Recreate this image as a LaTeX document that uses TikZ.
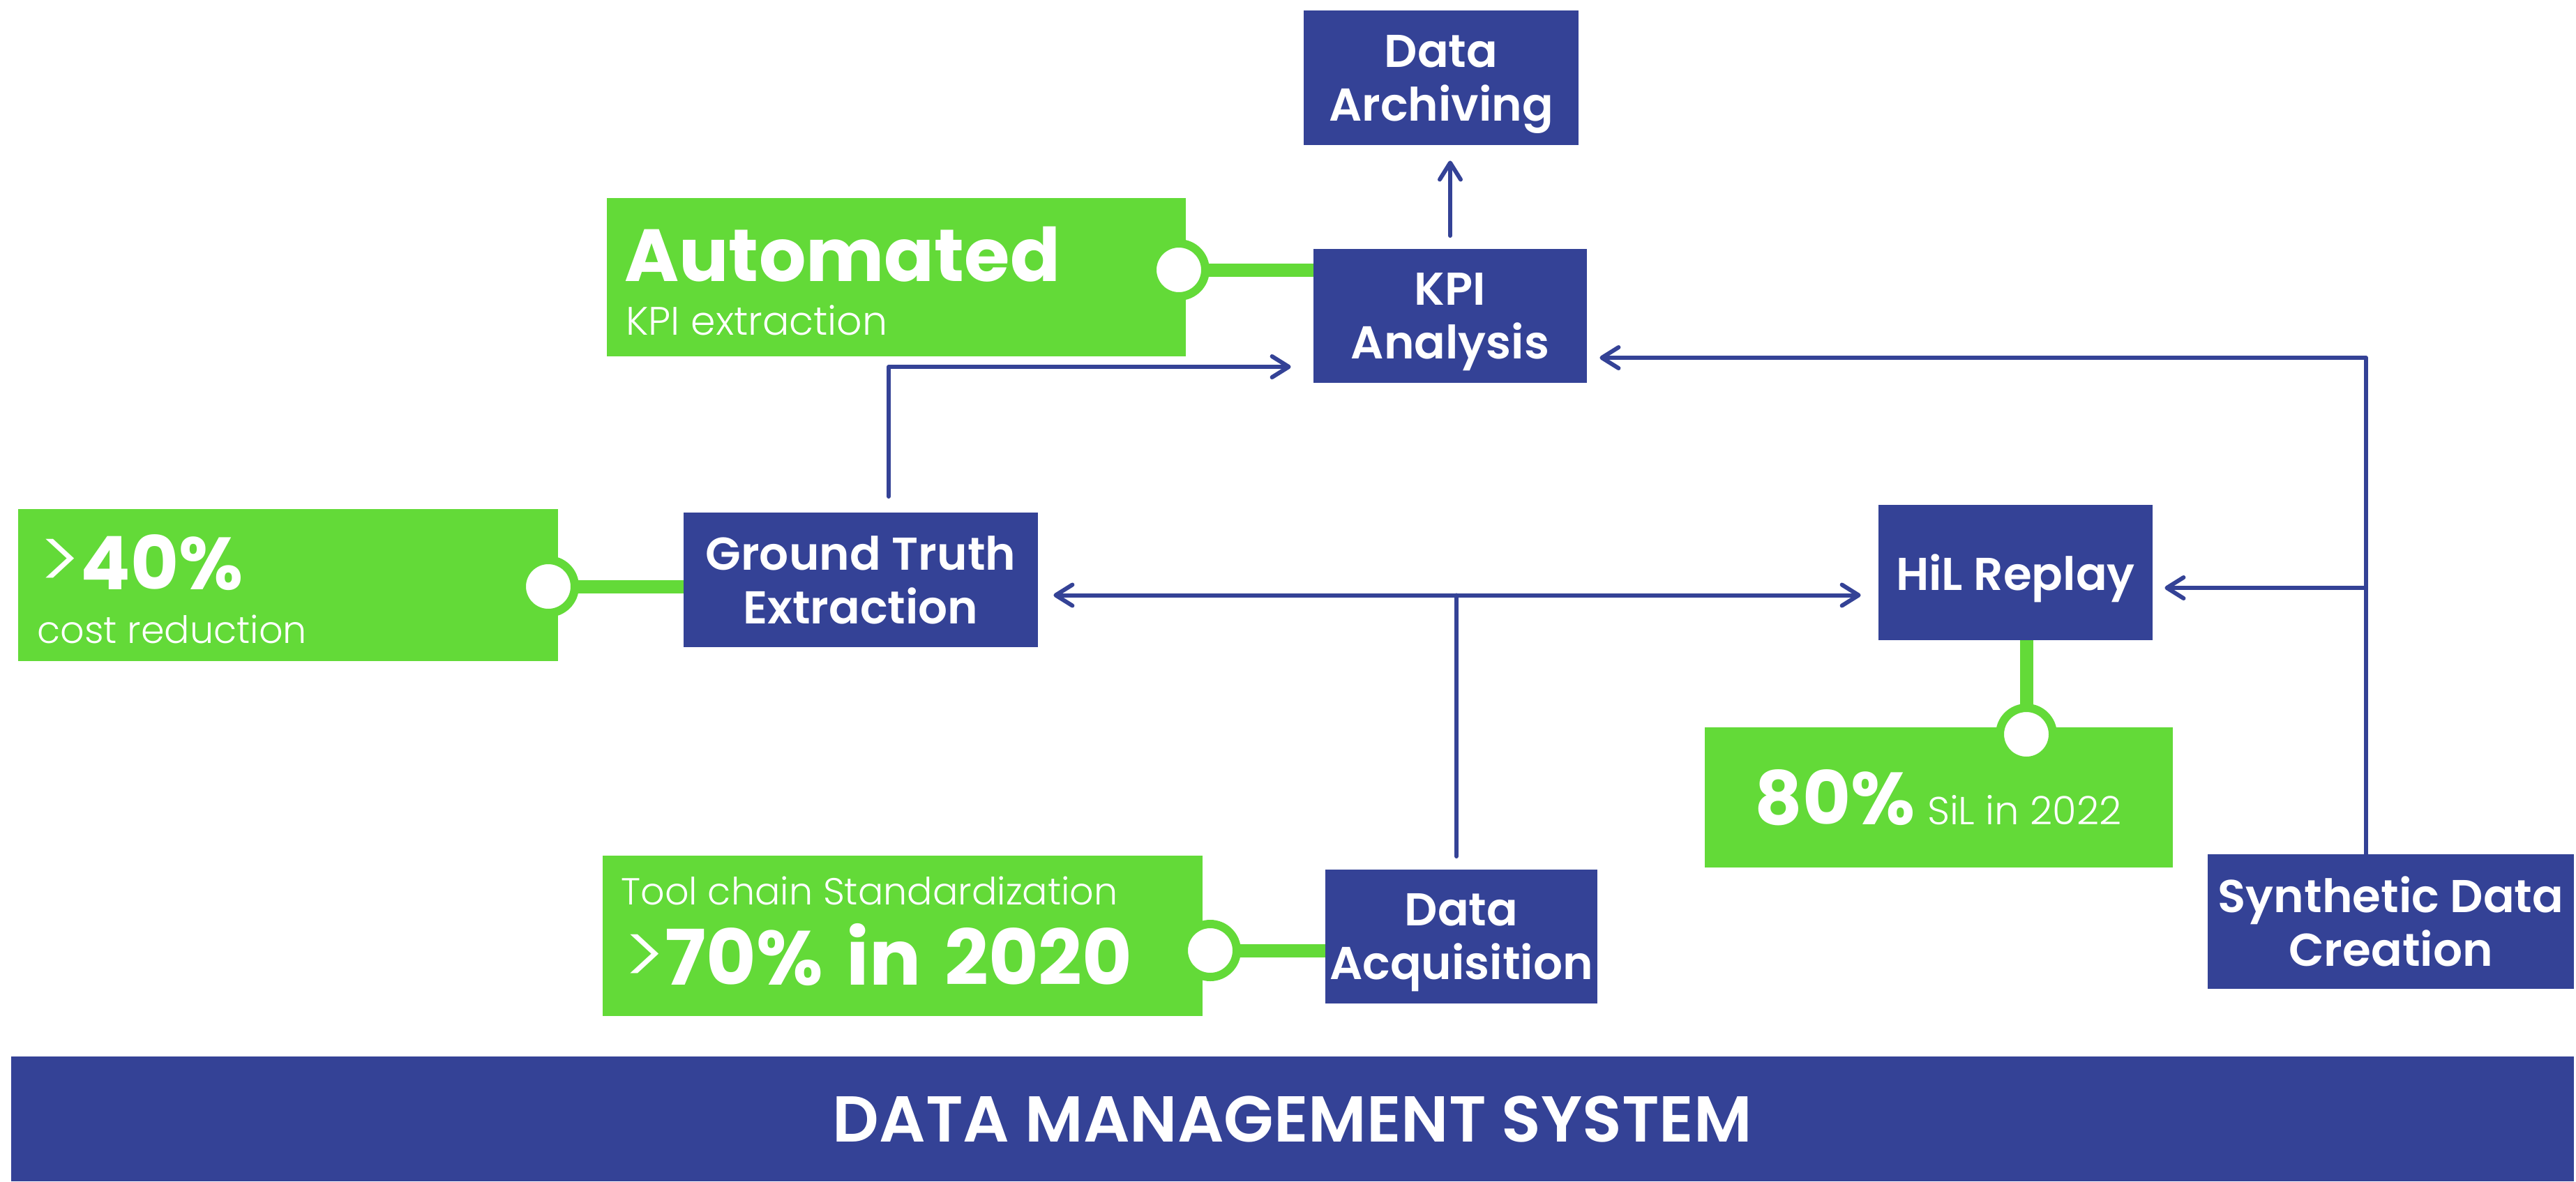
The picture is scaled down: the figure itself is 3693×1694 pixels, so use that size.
\documentclass[tikz,border=0pt]{standalone}
\usepackage{fontspec}
\setmainfont{Poppins}
\newfontfamily\plight{Poppins Light}
\newfontfamily\psemi{Poppins SemiBold}
\newfontfamily\pbold{Poppins Bold}
\usetikzlibrary{arrows.meta}
\definecolor{dblue}{RGB}{52,66,150}
\definecolor{dgreen}{RGB}{99,218,56}
\tikzset{
  bluebox/.style={fill=dblue, draw=none, text=white, align=center, inner sep=0pt,
    text depth=-2pt, font=\psemi\fontsize{33}{38.5}\selectfont},
  greenbox/.style={fill=dgreen, draw=none, inner sep=0pt},
  ring/.style={circle, fill=white, draw=dgreen, line width=6pt, minimum size=38pt, inner sep=0pt},
  gline/.style={draw=dgreen, line width=9.5pt},
  bline/.style={draw=dblue, line width=3pt, line cap=round, line join=round},
  barb/.tip={Straight Barb[length=12pt,width=15pt,line cap=round,line join=round]},
  bigtxt/.style={text=white, inner sep=0pt, anchor=base west, font=\pbold\fontsize{53}{60}\selectfont},
  smalltxt/.style={text=white, inner sep=0pt, anchor=base west, font=\plight\fontsize{27}{30}\selectfont},
}
\begin{document}
\begin{tikzpicture}[x=0.5pt,y=-0.5pt]
\useasboundingbox (0,0) rectangle (3693,1694);
% banner
\node[fill=dblue, inner sep=0pt, minimum width=1837pt, minimum height=89.5pt, text=white,
  text depth=-16pt, font=\psemi\fontsize{46.5}{50}\selectfont] (dms) at (1853,1604.5) {DATA MANAGEMENT SYSTEM};
% green boxes
\node[greenbox, minimum width=415pt, minimum height=113.5pt] (gauto) at (1285,397.5) {};
\node[greenbox, minimum width=387pt, minimum height=109pt] (g40) at (413,839) {};
\node[greenbox, minimum width=430pt, minimum height=115pt] (gtool) at (1294,1342) {};
\node[greenbox, minimum width=335.5pt, minimum height=100.5pt] (g80) at (2779.5,1143.5) {};
% blue boxes
\node[bluebox, minimum width=197pt, minimum height=96.5pt] (arch) at (2066,111.5) {Data\\Archiving};
\node[bluebox, minimum width=196pt, minimum height=96pt] (kpi) at (2079,453) {KPI\\Analysis};
\node[bluebox, minimum width=254pt, minimum height=96.5pt] (gt) at (1234,831.5) {Ground Truth\\Extraction};
\node[bluebox, minimum width=196.5pt, minimum height=97pt] (hil) at (2889.5,821) {HiL Replay};
\node[bluebox, minimum width=195pt, minimum height=96pt] (da) at (2095,1343) {Data\\Acquisition};
\node[bluebox, minimum width=262.5pt, minimum height=96.5pt] (syn) at (3427.5,1321.5) {Synthetic Data\\Creation};
% texts in green boxes
\node[bigtxt] (tauto) at (895,403) {Automated};
\node[smalltxt, font=\plight\fontsize{28.5}{30}\selectfont] (tkpi) at (897,480) {KPI extraction};
\node[bigtxt] (t40) at (56,845) {{\plight\fontsize{60}{60}\selectfont >}40\%};
\node[smalltxt] (tcost) at (53,922) {cost reduction};
\node[smalltxt] (ttool) at (890,1297) {Tool chain Standardization};
\node[bigtxt, font=\pbold\fontsize{55}{60}\selectfont] (t70) at (894,1412) {{\plight\fontsize{60}{60}\selectfont >}70\%\hspace{17pt}in\hspace{17pt}2020};
\node[bigtxt] (t80) at (2515,1182) {80\%\,{\plight\fontsize{28}{30}\selectfont SiL in 2022}};
% green connectors
\coordinate (pauto) at (1690,387);
\coordinate (p40) at (786,841);
\coordinate (ptool) at (1735,1363);
\coordinate (p80) at (2905,1053);
\draw[gline] (pauto) -- (pauto -| kpi.west);
\draw[gline] (p40) -- (p40 -| gt.west);
\draw[gline] (ptool) -- (ptool -| da.west);
\draw[gline] (p80) -- (p80 |- hil.south);
% ring nodes
\node[ring] (cauto) at (pauto) {};
\node[ring] (c40) at (p40) {};
\node[ring] (ctool) at (ptool) {};
\node[ring] (c80) at (p80) {};
% blue connectors
\coordinate (gtup) at (1274,712);
\coordinate (synup) at (3392,1225);
\coordinate (daup) at (2088,1228);
\coordinate (hline) at ([yshift=-11pt]gt.east);
\coordinate (archup) at (2079,338);
\draw[bline, -{barb}, shorten >=11pt] (archup) -- (archup |- arch.south);
\draw[bline, -{barb}, shorten >=16pt] (gtup) |- ([yshift=-36.5pt]kpi.west);
\draw[bline, -{barb}, shorten >=9pt] (synup) |- ([yshift=-30pt]kpi.east);
\draw[bline, -{barb}, shorten >=8.5pt] (synup |- 0,843) -- (hil.east |- 0,843);
\draw[bline, {barb}-{barb}, shorten <=11pt, shorten >=12.5pt] (hline) -- (hline -| hil.west);
\draw[bline] (daup) -- (daup |- hline);
\end{tikzpicture}
\end{document}
